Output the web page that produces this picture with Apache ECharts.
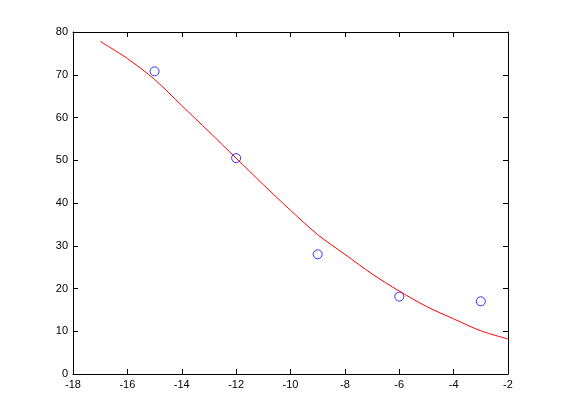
<!DOCTYPE html>
<html><head><meta charset="utf-8">
<script src="https://cdn.jsdelivr.net/npm/echarts@6/dist/echarts.min.js"></script>
<style>html,body{margin:0;padding:0;background:#fff}#c{width:561px;height:420px}</style>
</head><body><div id="c"></div>
<script>
var pointX = [-15, -12, -9, -6, -3];
var pointY = [70.8, 50.5, 28.0, 18.1, 17.0];
var curveX = [-17, -16, -15, -14, -13, -12, -11, -10, -9, -8, -7, -6, -5, -4, -3, -2];
var curveY = [77.8, 73.8, 68.9, 62.8, 56.7, 50.5, 44.3, 38.3, 32.6, 28.0, 23.4, 19.4, 15.8, 12.9, 10.1, 8.2];
var xTicks = [-18, -16, -14, -12, -10, -8, -6, -4, -2];
var yTicks = [0, 10, 20, 30, 40, 50, 60, 70, 80];

var chart = echarts.init(document.getElementById('c'), null, {renderer: 'canvas'});
var lab = {color: '#000', fontFamily: 'Liberation Sans, Arial, sans-serif', fontSize: 11};
function axisBase(show) {
  return {
    axisLine: {show: true, onZero: false, lineStyle: {color: '#000', width: 1}},
    axisTick: {show: true, inside: true, length: 5, lineStyle: {color: '#000'}},
    splitLine: {show: false},
    axisLabel: Object.assign({show: show, margin: 5}, lab)
  };
}
chart.setOption({
  animation: false,
  backgroundColor: '#fff',
  grid: {left: 73, right: 53, top: 32, bottom: 46},
  xAxis: [
    Object.assign({type: 'value', min: xTicks[0], max: xTicks[xTicks.length - 1], interval: 2, position: 'bottom'}, axisBase(true)),
    Object.assign({type: 'value', min: xTicks[0], max: xTicks[xTicks.length - 1], interval: 2, position: 'top'}, axisBase(false))
  ],
  yAxis: [
    Object.assign({type: 'value', min: yTicks[0], max: yTicks[yTicks.length - 1], interval: 10, position: 'left'}, axisBase(true)),
    Object.assign({type: 'value', min: yTicks[0], max: yTicks[yTicks.length - 1], interval: 10, position: 'right'}, axisBase(false))
  ],
  series: [
    {
      type: 'line',
      data: curveX.map(function (x, i) { return [x, curveY[i]]; }),
      smooth: 0.3,
      showSymbol: false,
      lineStyle: {color: '#ff0000', width: 1}
    },
    {
      type: 'scatter',
      data: pointX.map(function (x, i) { return [x, pointY[i]]; }),
      symbol: 'circle',
      symbolSize: 9,
      itemStyle: {color: 'rgba(0,0,0,0)', borderColor: '#0000ff', borderWidth: 1}
    }
  ]
});
</script></body></html>
